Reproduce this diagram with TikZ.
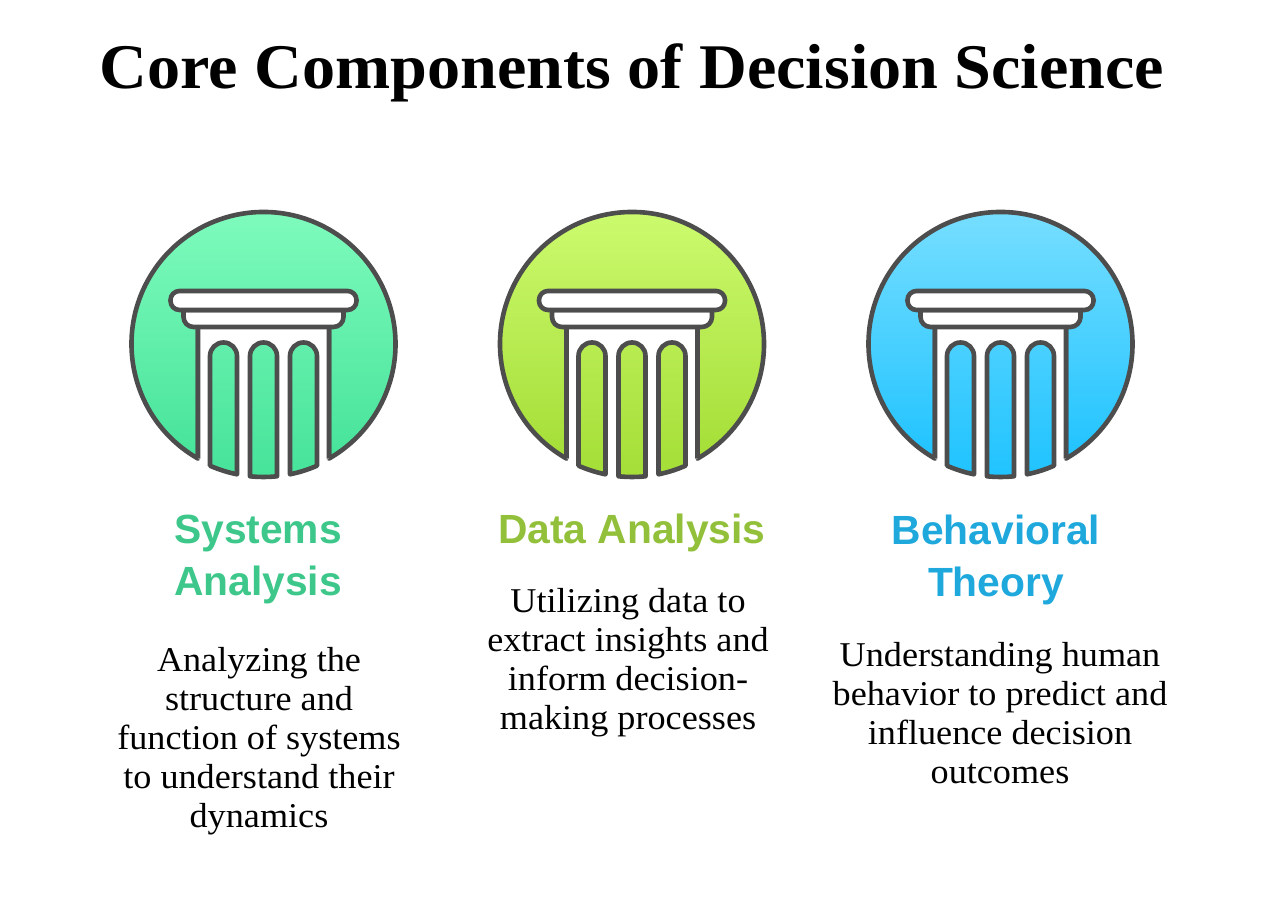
\documentclass[tikz,border=0pt]{standalone}
\usepackage{fontspec}
\setmainfont{Liberation Serif}[FakeStretch=1.04]
\newfontfamily\headfont{Liberation Sans}
\tikzset{
    outline/.style={draw=pillargray, line width=0.046cm, line join=round},
    heading/.style={align=center, font=\headfont\bfseries\fontsize{11.6}{14.8}\selectfont},
    blurb/.style={align=center, font=\fontsize{9.9}{11.1}\selectfont, text=black},
}
\definecolor{pillargray}{HTML}{4D4D4D}
\definecolor{greentop}{HTML}{82FDBF}
\definecolor{greenbottom}{HTML}{47E39A}
\definecolor{greentext}{HTML}{3DC78A}
\definecolor{limetop}{HTML}{CFFC72}
\definecolor{limebottom}{HTML}{A5DE37}
\definecolor{limetext}{HTML}{92C03A}
\definecolor{bluetop}{HTML}{7DE0FF}
\definecolor{bluebottom}{HTML}{20C3FF}
\definecolor{bluetext}{HTML}{1FA8DC}
\begin{document}
\begin{tikzpicture}
    % One pillar in a disc, centred on the origin of its scope
    \def\pillar#1#2{%
        \shade[top color=#1, bottom color=#2, outline]
            (240.25:1.32) arc (240.25:-60.25:1.32) -- (0.655,0.17) -- (-0.655,0.17) -- cycle;
        \fill[white] (240.25:1.32) -- (-0.655,0.17) -- (0.655,0.17) -- (-60.25:1.32) arc (-60.25:-119.75:1.32) -- cycle;
        \draw[outline] (240.25:1.32) -- (-0.655,0.17);
        \draw[outline] (-60.25:1.32) -- (0.655,0.17);
        % capital
        \draw[outline, fill=white] (-0.8,0.34) -- (0.8,0.34) -- (0.8,0.27) arc (0:-90:0.1) -- (-0.7,0.17) arc (-90:-180:0.1) -- cycle;
        \draw[outline, fill=white, rounded corners=0.09cm] (-0.93,0.34) rectangle (0.93,0.53);
        % flutes
        \shade[top color=#1!45!#2, bottom color=#2, outline] (-113.72:1.33) -- (-0.535,-0.12) arc (180:0:0.135) -- (-101.5:1.33) arc (-101.5:-113.72:1.33) -- cycle;
        \shade[top color=#1!45!#2, bottom color=#2, outline] (-95.82:1.33) -- (-0.135,-0.12) arc (180:0:0.135) -- (-84.18:1.33) arc (-84.18:-95.82:1.33) -- cycle;
        \shade[top color=#1!45!#2, bottom color=#2, outline] (-78.5:1.33) -- (0.265,-0.12) arc (180:0:0.135) -- (-66.28:1.33) arc (-66.28:-78.5:1.33) -- cycle;
    }
    \useasboundingbox (0,0) rectangle (12.64,9.1);

    \node (title) at (6.32,8.37) {\fontsize{18.1}{20}\selectfont\bfseries Core Components of Decision Science};

    \begin{scope}[shift={(2.635,5.66)}]
        \pillar{greentop}{greenbottom}
    \end{scope}
    \begin{scope}[shift={(6.32,5.66)}]
        \pillar{limetop}{limebottom}
    \end{scope}
    \begin{scope}[shift={(10.005,5.66)}]
        \pillar{bluetop}{bluebottom}
    \end{scope}

    % Names
    \node [heading, text=greentext] (systems) at (2.58,3.5) {Systems\\Analysis};
    \node [heading, text=limetext] (data) at (6.32,3.77) {Data Analysis};
    \node [heading, text=bluetext] (behavior) at (9.96,3.5) {Behavioral\\Theory};

    % Descriptions
    \node [blurb] (systemstext) at (2.59,1.69) {Analyzing the\\structure and\\function of systems\\to understand their\\dynamics};
    \node [blurb] (datatext) at (6.28,2.47) {Utilizing data to\\extract insights and\\inform decision-\\making processes};
    \node [blurb] (behaviortext) at (10,1.97) {Understanding human\\behavior to predict and\\influence decision\\outcomes};
\end{tikzpicture}
\end{document}
